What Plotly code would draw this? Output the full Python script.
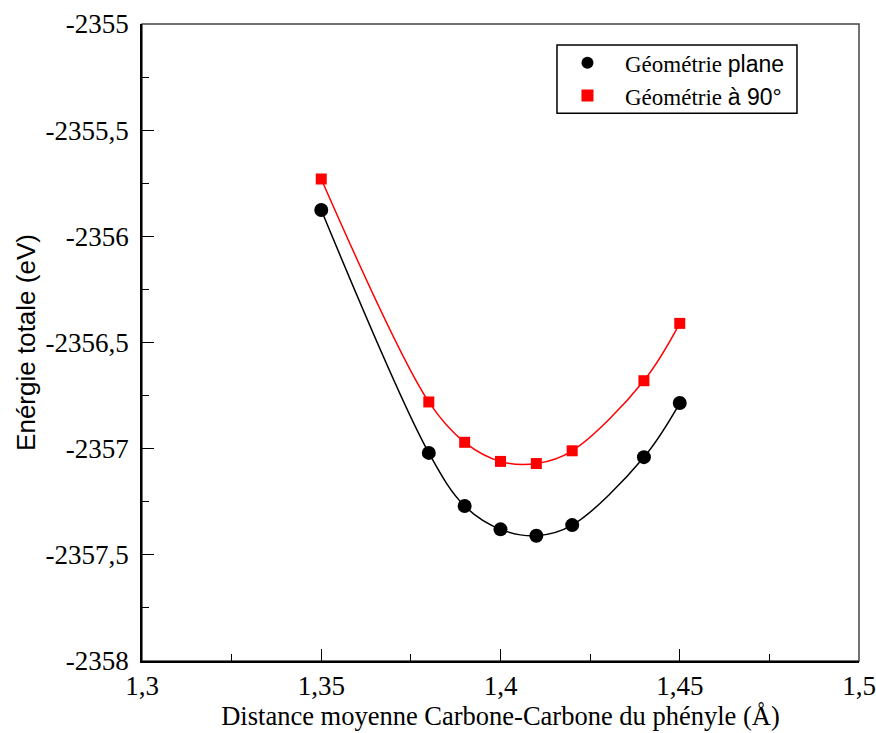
import plotly.graph_objects as go

distance = [1.35, 1.38, 1.39, 1.40, 1.41, 1.42, 1.44, 1.45]
energie_plane = [-2355.876, -2357.02, -2357.27, -2357.38, -2357.41, -2357.36, -2357.04, -2356.785]
energie_90 = [-2355.73, -2356.78, -2356.97, -2357.06, -2357.07, -2357.01, -2356.68, -2356.41]
x_ticks = [1.3, 1.35, 1.4, 1.45, 1.5]
x_labels = ["1,3", "1,35", "1,4", "1,45", "1,5"]
y_ticks = [-2355, -2355.5, -2356, -2356.5, -2357, -2357.5, -2358]
y_labels = ["-2355", "-2355,5", "-2356", "-2356,5", "-2357", "-2357,5", "-2358"]

serif = "Liberation Serif, Times New Roman, serif"
sans = "Liberation Sans, Arial, sans-serif"

fig = go.Figure()
fig.add_trace(go.Scatter(x=distance, y=energie_plane, mode="lines", line=dict(color="black", width=1.5, shape="spline", smoothing=1.0), showlegend=False, hoverinfo="skip"))
fig.add_trace(go.Scatter(x=distance, y=energie_90, mode="lines", line=dict(color="red", width=1.5, shape="spline", smoothing=1.0), showlegend=False, hoverinfo="skip"))
fig.add_trace(go.Scatter(x=distance, y=energie_plane, mode="markers", name="Géométrie <span style='font-family:Liberation Sans'>plane</span>", marker=dict(symbol="circle", color="black", size=14)))
fig.add_trace(go.Scatter(x=distance, y=energie_90, mode="markers", name="Géométrie <span style='font-family:Liberation Sans'>à 90°</span>", marker=dict(symbol="square", color="red", size=11)))

fig.update_layout(
    width=876, height=733,
    margin=dict(l=142, r=17, t=24, b=72, autoexpand=False),
    plot_bgcolor="white", paper_bgcolor="white",
    font=dict(family=serif, size=20, color="black"),
    legend=dict(x=0.569, y=0.973, xanchor="left", yanchor="top", borderwidth=0, bgcolor="rgba(0,0,0,0)",
                font=dict(family=serif, size=23), tracegroupgap=0, itemsizing="constant", itemwidth=65),
    shapes=[
        dict(type="rect", xref="paper", yref="paper", x0=0, x1=1, y0=0, y1=1, line=dict(color="#444", width=1.5), layer="below"),
        dict(type="rect", xref="paper", yref="paper", x0=0.5788, x1=0.9135, y0=0.860, y1=0.967,
             line=dict(color="black", width=1.5), fillcolor="white", layer="above"),
    ],
)
fig.update_xaxes(
    automargin=False,
    range=[1.3, 1.5], tickvals=x_ticks, ticktext=x_labels,
    showgrid=False, zeroline=False, showline=True, linecolor="black", linewidth=1.5,
    ticks="inside", ticklen=12, tickwidth=1, tickcolor="black",
    minor=dict(dtick=0.025, tick0=1.3, ticks="inside", ticklen=7, tickcolor="black", showgrid=False),
    tickfont=dict(family=serif, size=27),
    title=dict(text="Distance moyenne Carbone-Carbone du phényle (Å)", font=dict(family=serif, size=26.5), standoff=6),
)
fig.update_yaxes(
    automargin=False,
    range=[-2358, -2355], tickvals=y_ticks, ticktext=y_labels,
    showgrid=False, zeroline=False, showline=True, linecolor="black", linewidth=1.5,
    ticks="inside", ticklen=12, tickwidth=1, tickcolor="black",
    minor=dict(dtick=0.25, tick0=-2358, ticks="inside", ticklen=7, tickcolor="black", showgrid=False),
    tickfont=dict(family=serif, size=27), ticklabelstandoff=6,
    title=dict(text="Enérgie totale (eV)", font=dict(family=sans, size=26), standoff=2),
)

fig.write_html("out.html", config={"displayModeBar": False},
               post_script="document.body.style.margin='0';document.body.style.overflow='hidden';")
